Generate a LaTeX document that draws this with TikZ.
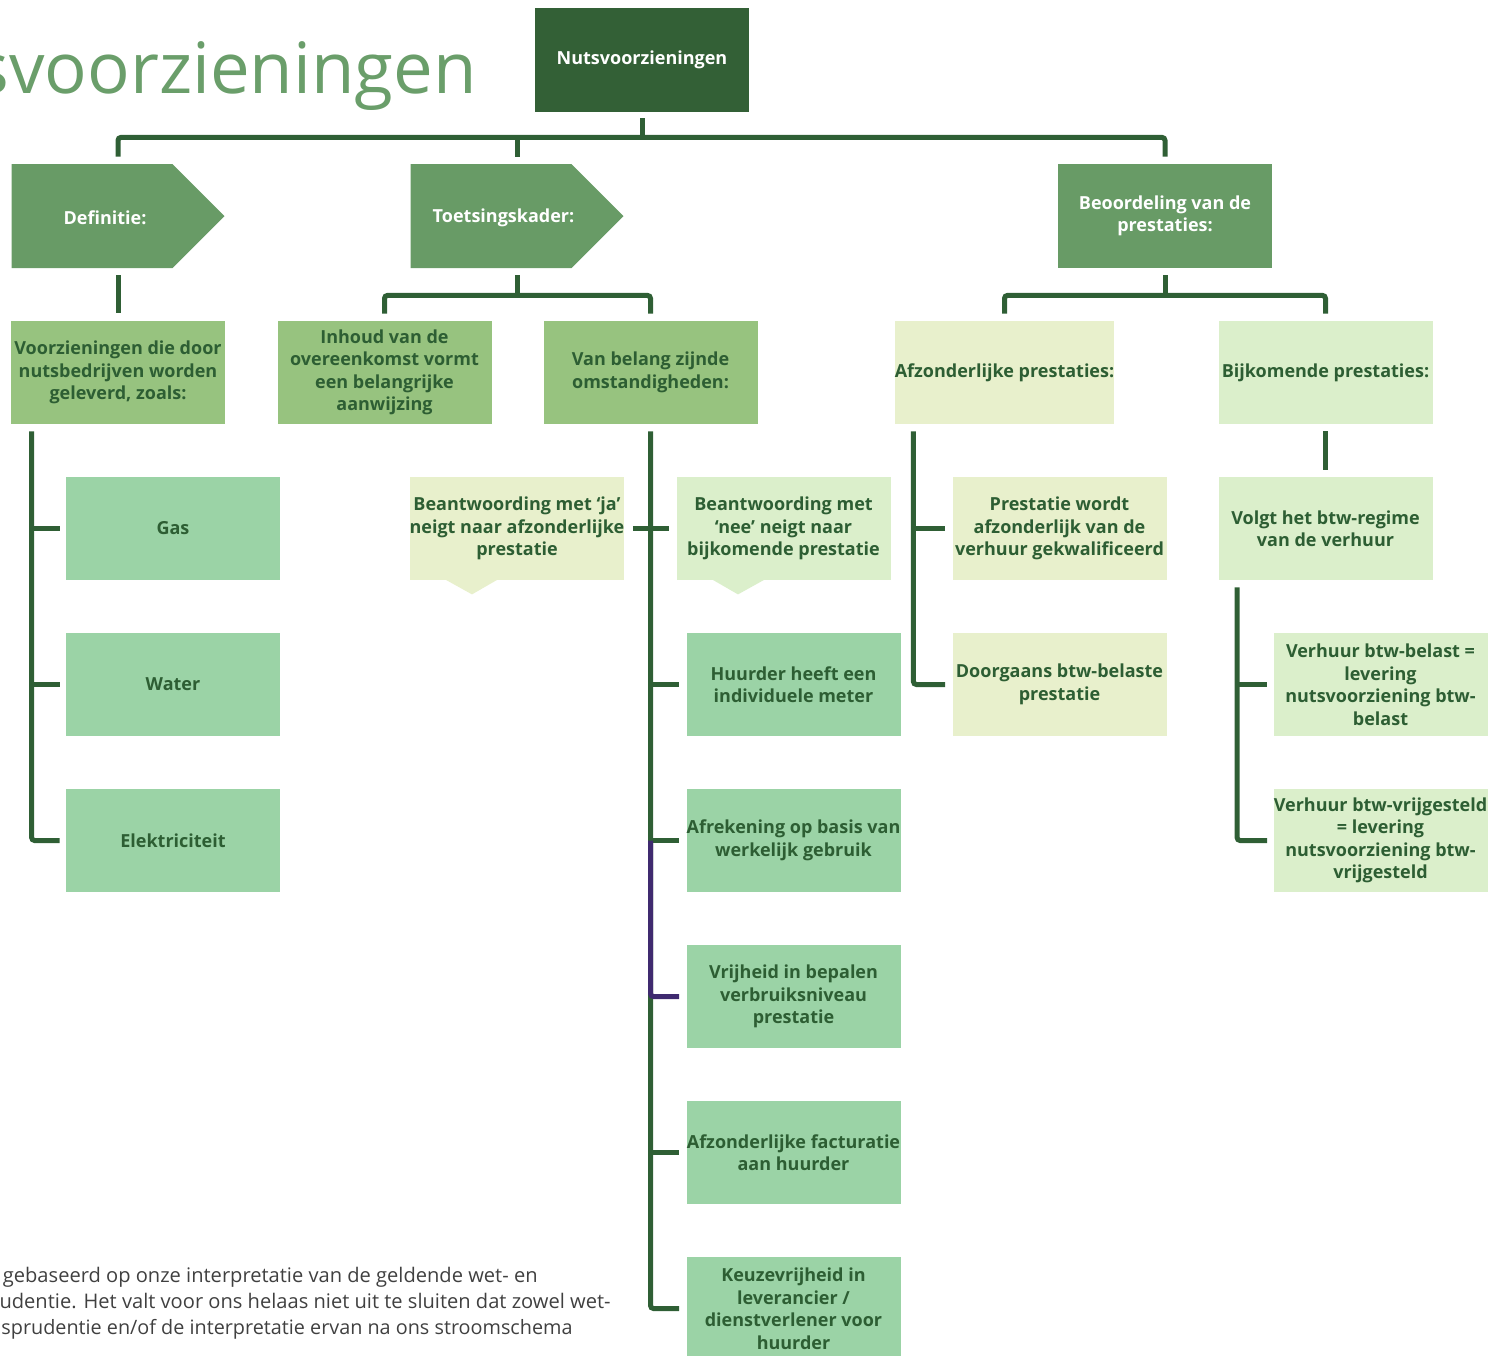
\documentclass[tikz,border=0pt]{standalone}
\usepackage{fontspec}
\setmainfont{Open Sans}
\usetikzlibrary{shapes.symbols,calc}
\definecolor{dk}{HTML}{336036}
\definecolor{lnc}{HTML}{2F5F35}
\definecolor{lvl1}{HTML}{689B66}
\definecolor{mid}{HTML}{97C37F}
\definecolor{mint}{HTML}{9BD3A6}
\definecolor{py}{HTML}{E8F0CC}
\definecolor{pg}{HTML}{DBEFCB}
\definecolor{purp}{HTML}{3F2A6F}
\definecolor{txt}{HTML}{2D5E33}
\definecolor{ttl}{HTML}{6A9E6A}
\definecolor{foot}{HTML}{404040}
\tikzset{
  conn/.style={line width=2.5pt, draw=lnc, rounded corners=1.5pt},
  bx/.style={minimum width=107pt, minimum height=51.5pt, align=center, inner sep=0pt,
    font=\bfseries\fontsize{9}{11.25}\selectfont, text=txt},
  arrowbox/.style={signal, signal to=east, signal from=nowhere, signal pointer angle=90,
    minimum width=106.5pt, minimum height=52pt, inner sep=0pt, fill=lvl1},
  whitetxt/.style={text=white, font=\bfseries\fontsize{9}{11.25}\selectfont, align=center},
  foottxt/.style={anchor=base east, text=foot, inner sep=0pt}
}
\begin{document}
\begin{tikzpicture}[x=0.5pt,y=-0.5pt]
\useasboundingbox (0,0) rectangle (1496,1356);
\clip (0,0) rectangle (1496,1356);
% title
\node[anchor=base east, inner sep=0pt, text=ttl, font=\fontsize{35.4}{40}\selectfont] (title) at (477,93) {svoorzieningen};
% level 0
\node[bx, fill=dk, minimum height=52pt, text=white] (root) at (642,60) {Nutsvoorzieningen};
% level 1
\node[arrowbox] (def) at (92,216) {};
\node[whitetxt] (deft) at (105,218) {Definitie:};
\node[arrowbox] (toets) at (491,216) {};
\node[whitetxt] (toetst) at (503.5,218) {Toetsingskader:};
\node[bx, fill=lvl1, minimum height=52pt, text=white] (beo) at (1165,216) {Beoordeling van de\\prestaties:};
% level 2
\node[bx, fill=mid] (voorz) at (118,372.5) {Voorzieningen die door\\nutsbedrijven worden\\geleverd, zoals:};
\node[bx, fill=mid] (inh) at (384.5,372.5) {Inhoud van de\\overeenkomst vormt\\een belangrijke\\aanwijzing};
\node[bx, fill=mid] (vanb) at (650.5,372.5) {Van belang zijnde\\omstandigheden:};
\node[bx, fill=py] (afz) at (1004.5,372.5) {Afzonderlijke prestaties:};
\node[bx, fill=pg] (bijk) at (1325.5,372.5) {Bijkomende prestaties:};
% definitie children
\node[bx, fill=mint] (gas) at (173,528.5) {Gas};
\node[bx, fill=mint] (water) at (173,684.5) {Water};
\node[bx, fill=mint] (elek) at (173,840.5) {Elektriciteit};
% callouts
\node[bx, fill=py] (ja) at (517,528.5) {Beantwoording met ‘ja’\\neigt naar afzonderlijke\\prestatie};
\fill[py] ($(ja.south)+(-72,-1)$) -- ($(ja.south)+(-45,14)$) -- ($(ja.south)+(-19,-1)$) -- cycle;
\node[bx, fill=pg] (nee) at (783.5,528.5) {Beantwoording met\\‘nee’ neigt naar\\bijkomende prestatie};
\fill[pg] ($(nee.south)+(-71.5,-1)$) -- ($(nee.south)+(-45.5,14)$) -- ($(nee.south)+(-18.5,-1)$) -- cycle;
% van belang children
\node[bx, fill=mint] (hu) at (793.5,684.5) {Huurder heeft een\\individuele meter};
\node[bx, fill=mint] (af) at (793.5,840.5) {Afrekening op basis van\\werkelijk gebruik};
\node[bx, fill=mint] (vr) at (793.5,996.5) {Vrijheid in bepalen\\verbruiksniveau\\prestatie};
\node[bx, fill=mint] (fa) at (793.5,1152.5) {Afzonderlijke facturatie\\aan huurder};
\node[bx, fill=mint] (kz) at (793.5,1308.5) {Keuzevrijheid in\\leverancier /\\dienstverlener voor\\huurder};
% afzonderlijke children
\node[bx, fill=py] (pw) at (1059.5,528.5) {Prestatie wordt\\afzonderlijk van de\\verhuur gekwalificeerd};
\node[bx, fill=py] (dg) at (1059.5,684.5) {Doorgaans btw-belaste\\prestatie};
% bijkomende children
\node[bx, fill=pg] (volgt) at (1325.5,528.5) {Volgt het btw-regime\\van de verhuur};
\node[bx, fill=pg] (vb1) at (1380.5,684.5) {Verhuur btw-belast =\\levering\\nutsvoorziening btw-\\belast};
\node[bx, fill=pg] (vb2) at (1380.5,840.5) {Verhuur btw-vrijgesteld\\= levering\\nutsvoorziening btw-\\vrijgesteld};
% footer
\node[foottxt, font=\fontsize{10.05}{12}\selectfont] (f1) at (538,1282) {gebaseerd op onze interpretatie van de geldende wet- en};
\node[foottxt, font=\fontsize{10.05}{12}\selectfont] (f2) at (611,1308) {udentie. Het valt voor ons helaas niet uit te sluiten dat zowel wet-};
\node[foottxt, font=\fontsize{9.9}{12}\selectfont] (f3) at (573,1334) {sprudentie en/of de interpretatie ervan na ons stroomschema};
% connectors: top
\coordinate (bar) at ($(root.south)+(0,25)$);
\coordinate (defn) at ($(def.north)+(26,-7)$);
\coordinate (toetsn) at ($(toets.north)+(26,-7)$);
\draw[conn] ($(root.south)+(0,6)$) -- (bar);
\draw[conn] (defn) |- (bar) -| ($(beo.north)+(0,-7)$);
\draw[conn] (toetsn) -- (toetsn |- bar);
% definitie
\draw[conn] ($(def.south)+(26,7)$) -- ($(voorz.north)+(0,-8)$);
% toetsingskader
\coordinate (tbar) at ($(toets.south)+(26,27)$);
\draw[conn] ($(toets.south)+(26,7)$) -- (tbar);
\draw[conn] ($(inh.north)+(0,-7)$) |- (tbar) -| ($(vanb.north)+(0,-7)$);
% beoordeling
\draw[conn] ($(beo.south)+(0,7)$) -- ($(beo.south)+(0,27)$);
\draw[conn] ($(afz.north)+(0,-7)$) |- ($(beo.south)+(0,27)$) -| ($(bijk.north)+(0,-7)$);
% voorzieningen trunk
\coordinate (vt) at ($(voorz.south west)+(21,7)$);
\draw[conn] (vt) |- ($(elek.west)+(-6,0)$);
\draw[conn] (vt |- gas.west) -- ($(gas.west)+(-6,0)$);
\draw[conn] (vt |- water.west) -- ($(water.west)+(-6,0)$);
% van belang trunk
\draw[conn] ($(vanb.south)+(0,7)$) |- ($(kz.west)+(-7,0)$);
\draw[conn] ($(ja.east)+(8,0)$) -- ($(nee.west)+(-7,0)$);
\draw[conn] (vanb.south |- hu.west) -- ($(hu.west)+(-7,0)$);
\draw[conn] (vanb.south |- af.west) -- ($(af.west)+(-7,0)$);
\draw[conn] (vanb.south |- fa.west) -- ($(fa.west)+(-7,0)$);
\draw[conn, draw=purp] (vanb.south |- af.west) |- ($(vr.west)+(-7,0)$);
% afzonderlijke trunk
\coordinate (at) at ($(afz.south west)+(19,7)$);
\draw[conn] (at) |- ($(dg.west)+(-7,0)$);
\draw[conn] (at |- pw.west) -- ($(pw.west)+(-7,0)$);
% bijkomende
\draw[conn] ($(bijk.south)+(0,7)$) -- ($(volgt.north)+(0,-7)$);
\coordinate (bt) at ($(volgt.south west)+(19,7)$);
\draw[conn] (bt) |- ($(vb2.west)+(-6,0)$);
\draw[conn] (bt |- vb1.west) -- ($(vb1.west)+(-6,0)$);
\end{tikzpicture}
\end{document}
